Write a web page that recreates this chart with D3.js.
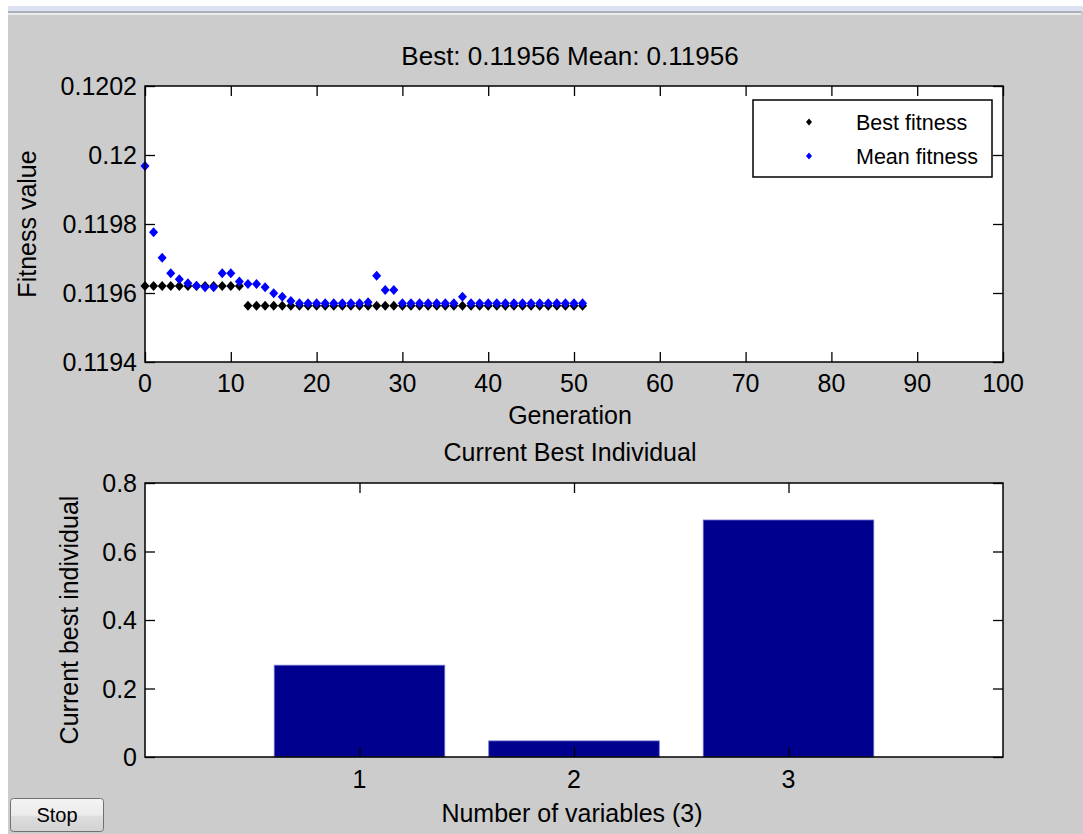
<!DOCTYPE html>
<html><head><meta charset="utf-8">
<script src="https://cdn.jsdelivr.net/npm/d3@7"></script>
<style>
html,body{margin:0;padding:0;background:#cccccc;overflow:hidden}
svg{display:block}
text{font-family:"Liberation Sans",Arial,sans-serif;fill:#000}
</style>
</head><body>
<svg id="c" width="1083" height="834"></svg>
<script>
// ---------- data ----------
const bestFitness = [
  0.11962,0.11962,0.11962,0.11962,0.11962,0.11962,0.11962,0.11962,0.11962,0.11962,
  0.11962,0.11962,0.119563,0.119563,0.119563,0.119563,0.119563,0.119563,0.119563,0.119563,
  0.119563,0.119563,0.119563,0.119563,0.119563,0.119563,0.119563,0.119563,0.119563,0.119563,
  0.119563,0.119563,0.119563,0.119563,0.119563,0.119563,0.119563,0.119563,0.119563,0.119563,
  0.119563,0.119563,0.119563,0.119563,0.119563,0.119563,0.119563,0.119563,0.119563,0.119563,
  0.119563,0.119563
];
const meanFitness = [
  0.119968,0.119776,0.119702,0.119657,0.11964,0.119628,0.119621,0.119617,0.119617,0.119657,
  0.119657,0.119633,0.119626,0.119626,0.119617,0.119599,0.119589,0.119577,0.11957,0.11957,
  0.11957,0.11957,0.11957,0.11957,0.11957,0.11957,0.119573,0.11965,0.119609,0.119609,
  0.11957,0.11957,0.11957,0.11957,0.11957,0.11957,0.11957,0.119589,0.11957,0.11957,
  0.11957,0.11957,0.11957,0.11957,0.11957,0.11957,0.11957,0.11957,0.11957,0.11957,
  0.11957,0.11957
];
const genTicks = [0,10,20,30,40,50,60,70,80,90,100];
const fitTicks = [0.1194,0.1196,0.1198,0.12,0.1202];
const fitTickLabels = ["0.1194","0.1196","0.1198","0.12","0.1202"];
const variables = [1,2,3];
const bestIndividual = [0.268,0.047,0.692];
const indTicks = [0,0.2,0.4,0.6,0.8];
const indTickLabels = ["0","0.2","0.4","0.6","0.8"];
const legendLabels = ["Best fitness","Mean fitness"];
const plotTitle = "Best: 0.11956 Mean: 0.11956";

// ---------- drawing ----------
const svg = d3.select("#c");
const FS = 25;

// window chrome
svg.append("rect").attr("x",0).attr("y",0).attr("width",1083).attr("height",834).attr("fill","#cccccc");
svg.append("rect").attr("x",0).attr("y",0).attr("width",1083).attr("height",6).attr("fill","#ffffff");
svg.append("rect").attr("x",0).attr("y",6).attr("width",1083).attr("height",5).attr("fill","#dde2f3");
svg.append("rect").attr("x",0).attr("y",0).attr("width",8).attr("height",834).attr("fill","#ffffff");
svg.append("rect").attr("x",8).attr("y",11).attr("width",1073).attr("height",823).attr("fill","#cccccc");
svg.append("rect").attr("x",8).attr("y",11).attr("width",1073).attr("height",2).attr("fill","#a9aeb8");
svg.append("rect").attr("x",8).attr("y",13).attr("width",1073).attr("height",2).attr("fill","#ececec");

const TL = 10; // tick length

function drawAxes(x, y) {
  const [x0, x1] = x.range();
  const [y0, y1] = y.range();
  svg.append("rect").attr("x",x0).attr("y",y1).attr("width",x1-x0).attr("height",y0-y1).attr("fill","#fff");
}
function drawFrame(x, y, xTicks, xLabels, yTicks, yLabels, xLabY) {
  const [x0, x1] = x.range();
  const [y0, y1] = y.range();
  const g = svg.append("g");
  g.append("g").attr("transform",`translate(0,${y0})`)
    .call(d3.axisBottom(x).tickValues(xTicks).tickSize(-TL).tickFormat(""))
    .call(a=>a.select(".domain").remove());
  g.append("g").attr("transform",`translate(0,${y1})`)
    .call(d3.axisTop(x).tickValues(xTicks).tickSize(-TL).tickFormat(""))
    .call(a=>a.select(".domain").remove());
  g.append("g").attr("transform",`translate(${x0},0)`)
    .call(d3.axisLeft(y).tickValues(yTicks).tickSize(-TL).tickFormat(""))
    .call(a=>a.select(".domain").remove());
  g.append("g").attr("transform",`translate(${x1},0)`)
    .call(d3.axisRight(y).tickValues(yTicks).tickSize(-TL).tickFormat(""))
    .call(a=>a.select(".domain").remove());
  g.selectAll(".tick line").attr("stroke","#000").attr("stroke-width",1.3);
  g.append("rect").attr("x",x0).attr("y",y1).attr("width",x1-x0).attr("height",y0-y1)
    .attr("fill","none").attr("stroke","#000").attr("stroke-width",1.5);
  g.selectAll(".xl").data(xTicks).enter().append("text")
    .attr("x",d=>x(d)).attr("y",xLabY).attr("text-anchor","middle")
    .style("font-size",FS+"px").text((d,i)=>xLabels[i]);
  g.selectAll(".yl").data(yTicks).enter().append("text")
    .attr("x",x0-8).attr("y",d=>y(d)).attr("dy","0.36em").attr("text-anchor","end")
    .style("font-size",FS+"px").text((d,i)=>yLabels[i]);
}

// ---- top plot ----
const xG = d3.scaleLinear().domain([0,100]).range([145,1003]);
const yF = d3.scaleLinear().domain([0.1194,0.1202]).range([362,86]);
drawAxes(xG, yF);

const diamond = "M0,-5L4.5,0L0,5L-4.5,0Z";
const dots = svg.append("g");
dots.selectAll(".b").data(bestFitness).enter().append("path")
  .attr("d",diamond).attr("fill","#000")
  .attr("transform",(d,i)=>`translate(${xG(i)},${yF(d)})`);
dots.selectAll(".m").data(meanFitness).enter().append("path")
  .attr("d",diamond).attr("fill","#0000ff")
  .attr("transform",(d,i)=>`translate(${xG(i)},${yF(d)})`);

drawFrame(xG, yF, genTicks, genTicks.map(String), fitTicks, fitTickLabels, 392);

svg.append("text").attr("x",570).attr("y",65).attr("text-anchor","middle")
  .style("font-size","26px").text(plotTitle);
svg.append("text").attr("x",570).attr("y",424).attr("text-anchor","middle")
  .style("font-size",FS+"px").text("Generation");
svg.append("text").attr("transform","translate(36,224) rotate(-90)").attr("text-anchor","middle")
  .style("font-size",FS+"px").text("Fitness value");

// legend
const lg = svg.append("g");
lg.append("rect").attr("x",753).attr("y",100).attr("width",239).attr("height",77)
  .attr("fill","#fff").attr("stroke","#000").attr("stroke-width",1.5);
const legColors = ["#000","#0000ff"];
legendLabels.forEach((t,i)=>{
  const cy = 122 + i*34;
  lg.append("path").attr("d","M0,-3.5L3,0L0,3.5L-3,0Z").attr("fill",legColors[i])
    .attr("transform",`translate(809,${cy})`);
  lg.append("text").attr("x",856).attr("y",cy).attr("dy","0.36em")
    .style("font-size","21.5px").text(t);
});

// ---- bottom plot ----
const xV = d3.scaleLinear().domain([0,4]).range([145,1003]);
const yI = d3.scaleLinear().domain([0,0.8]).range([757,483]);
drawAxes(xV, yI);
const bw = (xV(1)-xV(0))*0.795;
svg.append("g").selectAll("rect").data(bestIndividual).enter().append("rect")
  .attr("x",(d,i)=>xV(variables[i])-bw/2).attr("width",bw)
  .attr("y",d=>yI(d)).attr("height",d=>yI(0)-yI(d))
  .attr("fill","#00008f").attr("stroke","#6f6fd0").attr("stroke-width",0.8);
drawFrame(xV, yI, variables, variables.map(String), indTicks, indTickLabels, 788);

svg.append("text").attr("x",570).attr("y",461).attr("text-anchor","middle")
  .style("font-size",FS+"px").text("Current Best Individual");
svg.append("text").attr("x",572).attr("y",822).attr("text-anchor","middle")
  .style("font-size",FS+"px").text("Number of variables (3)");
svg.append("text").attr("transform","translate(78,620) rotate(-90)").attr("text-anchor","middle")
  .style("font-size",FS+"px").text("Current best individual");

// Stop button
const defs = svg.append("defs");
const gr = defs.append("linearGradient").attr("id","btn").attr("x1",0).attr("y1",0).attr("x2",0).attr("y2",1);
gr.append("stop").attr("offset","0%").attr("stop-color","#f4f4f4");
gr.append("stop").attr("offset","50%").attr("stop-color","#ebebeb");
gr.append("stop").attr("offset","55%").attr("stop-color","#dddddd");
gr.append("stop").attr("offset","100%").attr("stop-color","#d2d2d2");
svg.append("rect").attr("x",10.5).attr("y",798.5).attr("width",93).attr("height",33).attr("rx",3)
  .attr("fill","url(#btn)").attr("stroke","#707070").attr("stroke-width",1);
svg.append("text").attr("x",57).attr("y",815).attr("dy","0.36em").attr("text-anchor","middle")
  .style("font-size","20px").text("Stop");
</script>
</body></html>
